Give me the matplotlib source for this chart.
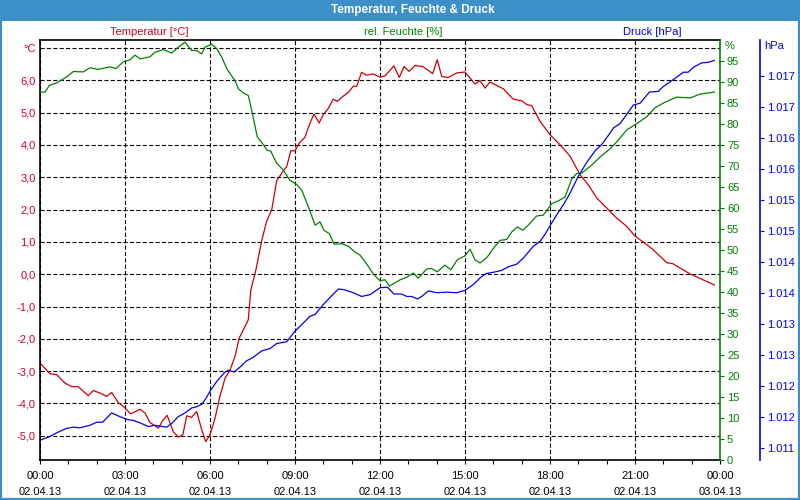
import matplotlib.pyplot as plt
from matplotlib.patches import Rectangle
import numpy as np

plt.rcParams['font.family'] = ['Liberation Sans', 'DejaVu Sans']
plt.rcParams['font.size'] = 8
plt.rcParams['lines.scale_dashes'] = False

# hours since 02.04.13 00:00
temp_hours = [0, 0.35, 0.59, 0.88, 1.12, 1.35, 1.70, 1.88, 2.12, 2.35,
              2.53, 2.76, 2.94, 3.20, 3.53, 3.71, 3.88, 4.18, 4.33, 4.49,
              4.70, 4.88, 5.04, 5.18, 5.35, 5.53, 5.71, 5.85, 6.0, 6.18,
              6.35, 6.53, 6.71, 6.88, 7.03, 7.35, 7.44, 7.62, 7.82, 8.0,
              8.18, 8.35, 8.53, 8.71, 8.85, 9.0, 9.15, 9.35, 9.53, 9.67,
              9.85, 10.0, 10.18, 10.35, 10.49, 10.70, 10.88, 11.06, 11.18, 11.35,
              11.53, 11.76, 12.0, 12.18, 12.49, 12.68, 12.85, 13.03, 13.24, 13.51,
              13.86, 14.02, 14.18, 14.41, 14.71, 15.0, 15.35, 15.53, 15.71, 15.88,
              16.35, 16.70, 17.0, 17.18, 17.35, 17.65, 18.0, 18.35, 18.71, 19.06,
              19.35, 19.65, 20.0, 20.35, 20.71, 21.0, 21.41, 21.65, 22.12, 22.35,
              22.94, 23.80]
temp_vals = [-2.75, -3.08, -3.11, -3.37, -3.48, -3.48, -3.76, -3.60, -3.68, -3.78,
             -3.66, -3.97, -4.09, -4.32, -4.18, -4.30, -4.59, -4.76, -4.53, -4.37,
             -4.87, -5.04, -4.97, -4.38, -4.43, -4.25, -4.82, -5.18, -4.97, -4.45,
             -3.78, -3.22, -2.96, -2.55, -1.98, -1.41, -0.49, 0.13, 1.02, 1.64,
             2.00, 2.88, 3.13, 3.34, 3.82, 3.82, 4.06, 4.24, 4.68, 4.96,
             4.68, 4.94, 5.14, 5.42, 5.35, 5.51, 5.63, 5.82, 5.82, 6.25,
             6.16, 6.20, 6.10, 6.14, 6.45, 6.09, 6.43, 6.28, 6.46, 6.43,
             6.21, 6.64, 6.12, 6.09, 6.23, 6.26, 5.89, 5.99, 5.76, 5.95,
             5.74, 5.42, 5.37, 5.25, 5.22, 4.73, 4.32, 4.01, 3.65, 3.08,
             2.77, 2.36, 2.05, 1.74, 1.48, 1.18, 0.92, 0.75, 0.36, 0.32,
             0.01, -0.33]

hum_hours = [0, 0.18, 0.33, 0.59, 0.94, 1.18, 1.53, 1.76, 2.06, 2.47,
             2.68, 2.94, 3.18, 3.35, 3.53, 3.88, 4.06, 4.35, 4.65, 4.88,
             5.12, 5.35, 5.53, 5.71, 5.82, 6.06, 6.24, 6.41, 6.59, 6.77,
             6.88, 7.0, 7.18, 7.35, 7.47, 7.67, 7.86, 8.02, 8.14, 8.35,
             8.59, 8.82, 9.06, 9.24, 9.50, 9.71, 9.88, 10.02, 10.21, 10.38,
             10.65, 10.88, 11.12, 11.29, 11.53, 11.76, 12.0, 12.18, 12.33, 12.71,
             12.94, 13.18, 13.35, 13.65, 13.82, 14.02, 14.29, 14.50, 14.73, 15.0,
             15.18, 15.35, 15.53, 15.77, 16.06, 16.24, 16.47, 16.65, 16.85, 17.04,
             17.23, 17.53, 17.76, 18.06, 18.29, 18.53, 18.77, 18.94, 19.12, 19.47,
             19.76, 20.12, 20.35, 20.71, 21.06, 21.41, 21.71, 22.06, 22.47, 22.94,
             23.29, 23.80]
hum_vals = [87.6, 87.6, 89.2, 89.8, 91.2, 92.5, 92.4, 93.4, 93.0, 93.6,
            93.2, 94.8, 95.3, 96.4, 95.5, 96.0, 97.1, 97.7, 96.9, 98.3,
            99.5, 97.5, 97.5, 96.7, 98.3, 99.0, 97.9, 96.0, 93.2, 91.4,
            90.4, 88.4, 87.4, 86.8, 83.3, 76.9, 75.3, 73.7, 73.6, 70.7,
            69.0, 66.6, 65.6, 64.2, 59.8, 55.9, 56.7, 54.7, 53.9, 51.4,
            51.5, 50.9, 49.5, 48.8, 46.7, 44.3, 42.7, 42.9, 41.4, 42.9,
            43.5, 44.5, 43.3, 45.5, 45.6, 44.8, 46.4, 45.3, 47.7, 48.6,
            50.2, 47.7, 46.9, 48.2, 50.9, 52.3, 52.5, 54.3, 55.5, 54.7,
            55.9, 58.1, 58.3, 61.0, 61.7, 62.6, 67.0, 68.2, 68.3, 70.2,
            72.1, 74.1, 75.7, 78.6, 80.1, 81.7, 83.9, 85.2, 86.4, 86.2,
            87.1, 87.6]

press_hours = [0, 0.35, 0.64, 0.94, 1.18, 1.41, 1.76, 2.0, 2.21, 2.53,
               2.82, 3.11, 3.29, 3.53, 3.82, 4.06, 4.47, 4.65, 4.88, 5.12,
               5.35, 5.53, 5.71, 5.85, 6.0, 6.24, 6.53, 6.65, 6.85, 7.06,
               7.29, 7.53, 7.82, 8.12, 8.35, 8.71, 9.0, 9.29, 9.53, 9.71,
               10.0, 10.29, 10.53, 10.73, 11.06, 11.35, 11.65, 12.0, 12.26, 12.49,
               12.76, 12.94, 13.12, 13.32, 13.47, 13.71, 14.0, 14.35, 14.71, 15.0,
               15.29, 15.53, 15.74, 16.0, 16.29, 16.53, 16.82, 17.06, 17.41, 17.65,
               17.82, 18.0, 18.24, 18.47, 18.71, 19.0, 19.29, 19.59, 19.82, 20.06,
               20.24, 20.47, 20.71, 20.94, 21.18, 21.51, 21.82, 22.0, 22.35, 22.71,
               22.88, 23.06, 23.35, 23.59, 23.80]
press_vals = [1011.12, 1011.18, 1011.25, 1011.31, 1011.33, 1011.32, 1011.36, 1011.41, 1011.41, 1011.56,
              1011.50, 1011.45, 1011.44, 1011.40, 1011.34, 1011.36, 1011.33, 1011.39, 1011.50, 1011.56,
              1011.64, 1011.66, 1011.70, 1011.79, 1011.91, 1012.07, 1012.22, 1012.25, 1012.22, 1012.30,
              1012.40, 1012.46, 1012.56, 1012.60, 1012.68, 1012.71, 1012.88, 1013.01, 1013.12, 1013.15,
              1013.31, 1013.45, 1013.56, 1013.55, 1013.50, 1013.44, 1013.47, 1013.58, 1013.59, 1013.48,
              1013.48, 1013.44, 1013.44, 1013.40, 1013.44, 1013.53, 1013.50, 1013.51, 1013.50, 1013.54,
              1013.63, 1013.74, 1013.81, 1013.83, 1013.86, 1013.92, 1013.96, 1014.06, 1014.25, 1014.33,
              1014.44, 1014.58, 1014.76, 1014.92, 1015.11, 1015.38, 1015.60, 1015.79, 1015.89, 1016.04,
              1016.16, 1016.23, 1016.38, 1016.53, 1016.56, 1016.74, 1016.75, 1016.83, 1016.94, 1017.06,
              1017.06, 1017.14, 1017.21, 1017.22, 1017.25]

x_ticks = [0, 3, 6, 9, 12, 15, 18, 21, 24]
x_labels = ['00:00\n02.04.13', '03:00\n02.04.13', '06:00\n02.04.13', '09:00\n02.04.13',
            '12:00\n02.04.13', '15:00\n02.04.13', '18:00\n02.04.13', '21:00\n02.04.13',
            '00:00\n03.04.13']

RED = '#cc0000'
RED_TXT = '#d0002c'
GREEN = '#008000'
BLUE = '#0000ee'
FRAME = '#3d8fc7'
grid_dash = (0, (3, 1.6))

fig = plt.figure(figsize=(8, 5), dpi=100)
fig.patches.append(Rectangle((0, 1 - 21 / 500), 1, 21 / 500, transform=fig.transFigure,
                             facecolor=FRAME, edgecolor='none', zorder=0))
fig.patches.append(Rectangle((0, 0), 1, 1, transform=fig.transFigure, fill=False,
                             edgecolor=FRAME, linewidth=3, zorder=0))
fig.text(413 / 800, 1 - 10.5 / 500, 'Temperatur, Feuchte & Druck', color='white',
         fontsize=8.5, fontweight='bold', ha='center', va='center')

ax = fig.add_axes([40 / 800, 40 / 500, 680 / 800, 420 / 500])
ax.plot(temp_hours, temp_vals, color=RED, linewidth=0.9)
ax.set_xlim(0, 24)
ax.set_ylim(-5.75, 7.25)
ax.set_xticks(x_ticks)
ax.set_xticklabels(x_labels, linespacing=1.75)
ax.set_xticks(range(25), minor=True)
ax.set_yticks(range(-5, 8))
ax.set_yticklabels([f'{v:.1f}'.replace('.', ',') for v in range(-5, 7)] + ['°C'])
ax.tick_params(axis='y', length=0, pad=3, labelcolor=RED_TXT)
ax.tick_params(axis='x', which='both', length=3, width=0.8, pad=5, direction='out')
ax.grid(True, which='major', color='black', linestyle=grid_dash, linewidth=0.8)
for s in ax.spines.values():
    s.set_linewidth(1.2)
ax.spines['right'].set_visible(False)

ax2 = ax.twinx()
ax2.plot(hum_hours, hum_vals, color=GREEN, linewidth=0.9)
ax2.set_ylim(0, 100)
ax2.set_yticks(range(0, 100, 5))
ax2.tick_params(axis='y', length=3, width=0.8, pad=2, colors=GREEN)
for k in ['left', 'top', 'bottom']:
    ax2.spines[k].set_visible(False)
ax2.spines['right'].set_color(GREEN)
ax2.spines['right'].set_linewidth(1.2)

ax3 = ax.twinx()
ax3.plot(press_hours, press_vals, color=BLUE, linewidth=0.9)
ax3.set_ylim(1010.8, 1017.58)
p_ticks = np.arange(1011, 1017.01, 0.5)
ax3.set_yticks(p_ticks)
ax3.set_yticklabels([f'{int(v + 0.5):,}'.replace(',', '.') for v in p_ticks])
# 40 px to the right of the humidity axis
ax3.spines['right'].set_position(('outward', 40 * 72 / 100))
ax3.spines['right'].set_color(BLUE)
ax3.spines['right'].set_linewidth(1.2)
for k in ['left', 'top', 'bottom']:
    ax3.spines[k].set_visible(False)
ax3.tick_params(axis='y', length=3, width=0.8, pad=2, colors=BLUE)

fig.text(149 / 800, 1 - 32 / 500, 'Temperatur [°C]', color=RED_TXT, ha='center', va='center')
fig.text(403 / 800, 1 - 32 / 500, 'rel. Feuchte [%]', color=GREEN, ha='center', va='center')
fig.text(652 / 800, 1 - 32 / 500, 'Druck [hPa]', color=BLUE, ha='center', va='center')
fig.text(725 / 800, 1 - 46 / 500, '%', color=GREEN, ha='left', va='center')
fig.text(764 / 800, 1 - 46 / 500, 'hPa', color=BLUE, ha='left', va='center')

fig.savefig('out.png', dpi=100, facecolor='white')
